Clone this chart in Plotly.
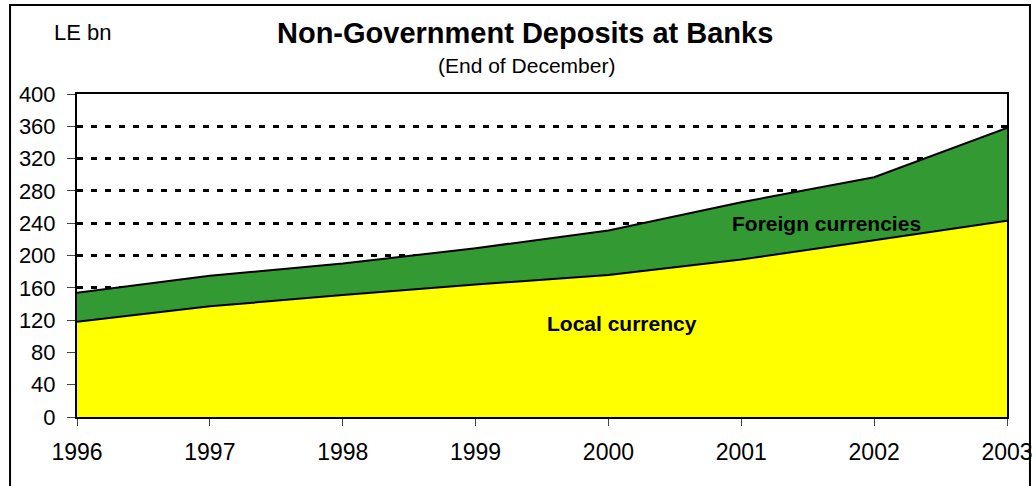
import plotly.graph_objects as go

# Non-government deposits at banks, end of December (LE bn)
years = [1996, 1997, 1998, 1999, 2000, 2001, 2002, 2003]
local_currency = [118, 137, 151, 164, 176, 195, 219, 243]
foreign_currencies = [36, 38, 39, 45, 55, 71, 78, 115]

y_ticks = [0, 40, 80, 120, 160, 200, 240, 280, 320, 360, 400]

FONT = "Liberation Sans, Arial, sans-serif"

fig = go.Figure()

fig.add_trace(go.Scatter(
    x=years, y=local_currency, name="Local currency",
    stackgroup="dep", mode="lines",
    line=dict(color="black", width=2),
    fillcolor="#FFFF00",
))
fig.add_trace(go.Scatter(
    x=years, y=foreign_currencies, name="Foreign currencies",
    stackgroup="dep", mode="lines",
    line=dict(color="black", width=2),
    fillcolor="#339933",
))

fig.update_layout(
    width=1036, height=486,
    margin=dict(l=77, r=29, t=94, b=69),
    paper_bgcolor="white", plot_bgcolor="white",
    showlegend=False,
    font=dict(family=FONT, color="black"),
    xaxis=dict(
        range=[1996, 2003], tickvals=years, ticktext=[str(y) for y in years],
        showgrid=False, zeroline=False, automargin=False,
        showline=True, linecolor="black", linewidth=2, mirror=True,
        ticks="outside", ticklen=7, tickcolor="#444", tickwidth=1,
        tickfont=dict(size=23, family=FONT, color="black"),
        ticklabelstandoff=6,
    ),
    yaxis=dict(
        range=[0, 400], tickvals=y_ticks,
        showgrid=True, gridcolor="black", gridwidth=3, griddash="6px,8px",
        zeroline=False, automargin=False,
        showline=True, linecolor="black", linewidth=2, mirror=True,
        ticks="outside", ticklen=8, tickcolor="#444", tickwidth=1,
        tickfont=dict(size=22, family=FONT, color="black"),
        ticklabelstandoff=7,
    ),
    shapes=[dict(
        type="rect", xref="paper", yref="paper",
        x0=-0.072, x1=1.0247, y0=-0.25, y1=1.2757,
        line=dict(color="black", width=2), fillcolor="rgba(0,0,0,0)",
        layer="above",
    )],
    annotations=[
        dict(text="<b>Non-Government Deposits at Banks</b>", xref="paper", yref="paper",
             x=0.482, y=1.188, xanchor="center", yanchor="middle", showarrow=False,
             font=dict(size=29, family=FONT, color="black")),
        dict(text="(End of December)", xref="paper", yref="paper",
             x=0.483, y=1.087, xanchor="center", yanchor="middle", showarrow=False,
             font=dict(size=21, family=FONT, color="black")),
        dict(text="LE bn", xref="paper", yref="paper",
             x=0.0065, y=1.19, xanchor="center", yanchor="middle", showarrow=False,
             font=dict(size=22, family=FONT, color="black")),
        dict(text="<b>Local currency</b>", xref="x", yref="y",
             x=2000.1, y=116, xanchor="center", yanchor="middle", showarrow=False,
             font=dict(size=21, family=FONT, color="black")),
        dict(text="<b>Foreign currencies</b>", xref="x", yref="y",
             x=2001.64, y=240, xanchor="center", yanchor="middle", showarrow=False,
             font=dict(size=21, family=FONT, color="black")),
    ],
)

fig.write_html("out.html")
